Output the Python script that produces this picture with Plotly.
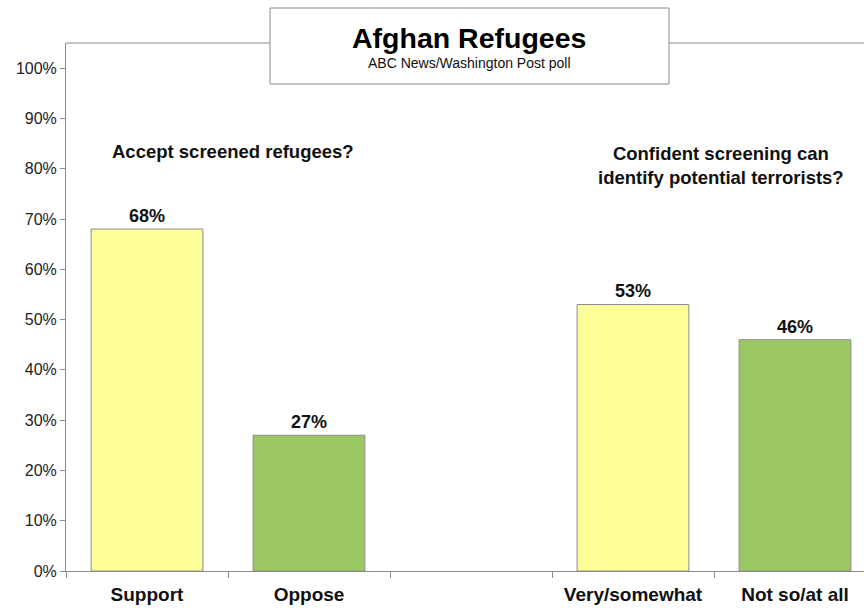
import plotly.graph_objects as go

categories = ["Support", "Oppose", " ", "Very/somewhat", "Not so/at all"]
values = [68, 27, None, 53, 46]
bar_colors = ["#FFFF99", "#9BC865", "#FFFFFF", "#FFFF99", "#9BC865"]
value_labels = ["68%", "27%", "", "53%", "46%"]
y_ticks = [0, 10, 20, 30, 40, 50, 60, 70, 80, 90, 100]
y_tick_labels = [f"{v}%" for v in y_ticks]

title = "Afghan Refugees"
subtitle = "ABC News/Washington Post poll"
left_question = "Accept screened refugees?"
right_question = "Confident screening can<br>identify potential terrorists?"

FONT = "Liberation Sans, Arial, sans-serif"

fig = go.Figure(
    go.Bar(
        x=categories,
        y=values,
        width=0.69,
        marker=dict(color=bar_colors, line=dict(color="#8C8C8C", width=1)),
        text=value_labels,
        textposition="outside",
        textfont=dict(family=FONT, size=18, color="#111111"),
        texttemplate="<b>%{text}</b>",
        cliponaxis=False,
        hoverinfo="skip",
    )
)

W, H = 864, 608
ml, mr, mt, mb = 66, 0, 43, 37
fig.update_layout(
    width=W,
    height=H,
    margin=dict(l=ml, r=mr, t=mt, b=mb),
    paper_bgcolor="white",
    plot_bgcolor="white",
    showlegend=False,
    font=dict(family=FONT, color="#222222"),
)

fig.update_xaxes(
    type="category",
    categoryorder="array",
    categoryarray=categories,
    range=[-0.5, -0.5 + (W - ml - mr) / 162.0],
    tickson="boundaries",
    ticks="outside",
    ticklen=6,
    tickcolor="#8C8C8C",
    showline=True,
    linecolor="#8C8C8C",
    linewidth=1,
    showgrid=False,
    tickfont=dict(family=FONT, size=19, color="#111111"),
    tickvals=categories,
    ticktext=[f"<b>{c}</b>" if c.strip() else "" for c in categories],
    ticklabelstandoff=6,
)
fig.update_yaxes(
    range=[0, 105],
    tickvals=y_ticks,
    ticktext=y_tick_labels,
    ticks="outside",
    ticklen=5,
    tickcolor="#8C8C8C",
    showline=True,
    linecolor="#8C8C8C",
    linewidth=1,
    showgrid=False,
    zeroline=False,
    tickfont=dict(family=FONT, size=16, color="#222222"),
)

# top border of plot area (interrupted by title box)
box_x0 = (270 - ml) / (W - ml - mr)
box_x1 = (669 - ml) / (W - ml - mr)
box_y0 = 1 + (43 - 84) / (H - mt - mb)
box_y1 = 1 + (43 - 8) / (H - mt - mb)
shapes = [
    dict(type="line", xref="paper", yref="paper", x0=0, x1=box_x0, y0=1, y1=1,
         line=dict(color="#8C8C8C", width=1)),
    dict(type="line", xref="paper", yref="paper", x0=box_x1, x1=1, y0=1, y1=1,
         line=dict(color="#8C8C8C", width=1)),
    dict(type="rect", xref="paper", yref="paper", x0=box_x0, x1=box_x1, y0=box_y0, y1=box_y1,
         line=dict(color="#8C8C8C", width=1), fillcolor="white", layer="above"),
]
fig.update_layout(shapes=shapes)

def py(px):
    return 1 - (px - mt) / (H - mt - mb)

def pxx(px):
    return (px - ml) / (W - ml - mr)

annotations = [
    dict(text=f"<b>{title}</b>", x=pxx(469), y=py(38), font=dict(size=28.5, color="#000000")),
    dict(text=subtitle, x=pxx(469), y=py(63), font=dict(size=14, color="#111111")),
    dict(text=f"<b>{left_question}</b>", x=pxx(233), y=py(151), font=dict(size=18.5, color="#111111")),
    dict(text=f"<b>{right_question}</b>", x=pxx(721), y=py(166), font=dict(size=18.5, color="#111111")),
]
for a in annotations:
    a.update(xref="paper", yref="paper", showarrow=False, xanchor="center", yanchor="middle")
    a["font"]["family"] = FONT
fig.update_layout(annotations=annotations)

fig.write_html(
    "out.html",
    config={"displayModeBar": False},
    post_script="document.body.style.margin='0';document.body.style.overflow='hidden';",
)
